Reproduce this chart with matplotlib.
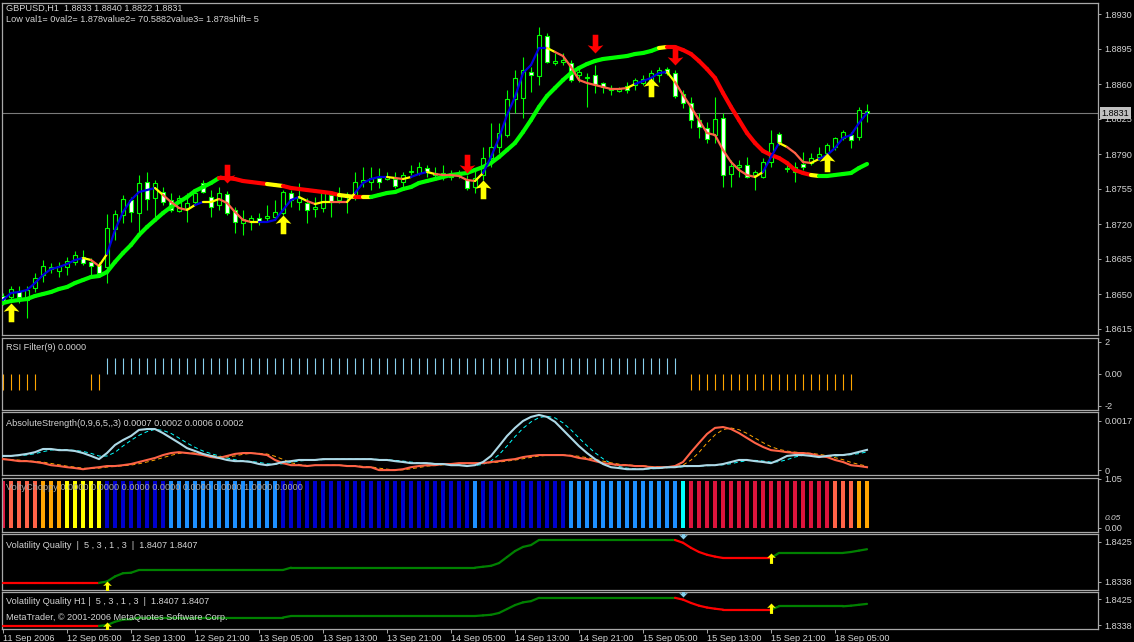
import numpy as np
import pandas as pd
import matplotlib
matplotlib.use("Agg")
import matplotlib.pyplot as plt
from matplotlib.path import Path
from matplotlib.collections import LineCollection

plt.rcParams['font.family'] = ['Liberation Sans', 'DejaVu Sans']

# ---------------- data (GBPUSD H1) ----------------
opens = [1.8648,1.8647,1.8653,1.8644,1.8656,1.8669,1.8675,1.8673,1.8677,1.8682,
1.8687,1.8682,1.8679,1.8677,1.8715,1.8729,1.8744,1.8731,1.8762,1.8746,
1.8752,1.8744,1.8733,1.8736,1.8742,1.8761,1.8747,1.8739,1.8750,1.8734,
1.8721,1.8722,1.8726,1.8726,1.8727,1.8731,1.8751,1.8742,1.8741,1.8735,
1.8736,1.8749,1.8744,1.8747,1.8747,1.8762,1.8762,1.8766,1.8765,1.8765,
1.8762,1.8772,1.8771,1.8776,1.8769,1.8768,1.8770,1.8769,1.8764,1.8757,
1.8769,1.8786,1.8797,1.8809,1.8845,1.8846,1.8872,1.8868,1.8908,1.8881,
1.8882,1.8881,1.8869,1.8866,1.8869,1.8861,1.8854,1.8853,1.8858,1.8859,
1.8861,1.8862,1.8869,1.8875,1.8871,1.8850,1.8841,1.8824,1.8816,1.8809,
1.8826,1.8770,1.8777,1.8779,1.8769,1.8767,1.8782,1.8810,1.8775,1.8772,
1.8780,1.8781,1.8787,1.8791,1.8797,1.8806,1.8809,1.8807,1.8833]
highs = [1.8651,1.8658,1.8658,1.8658,1.8671,1.8684,1.8681,1.8682,1.8687,1.8693,
1.8694,1.8686,1.8682,1.8730,1.8734,1.8749,1.8747,1.8769,1.8772,1.8764,
1.8757,1.8751,1.8749,1.8751,1.8754,1.8764,1.8754,1.8757,1.8753,1.8737,
1.8734,1.8729,1.8731,1.8739,1.8744,1.8754,1.8754,1.8761,1.8746,1.8747,
1.8754,1.8752,1.8757,1.8752,1.8772,1.8777,1.8777,1.8776,1.8772,1.8772,
1.8772,1.8779,1.8782,1.8779,1.8777,1.8779,1.8774,1.8774,1.8769,1.8774,
1.8797,1.8821,1.8821,1.8854,1.8874,1.8887,1.8877,1.8917,1.8911,1.8891,
1.8891,1.8884,1.8877,1.8871,1.8879,1.8862,1.8859,1.8857,1.8862,1.8866,
1.8869,1.8874,1.8877,1.8877,1.8874,1.8854,1.8847,1.8831,1.8822,1.8847,
1.8831,1.8784,1.8784,1.8787,1.8774,1.8786,1.8814,1.8812,1.8781,1.8782,
1.8792,1.8791,1.8797,1.8801,1.8807,1.8814,1.8812,1.8837,1.8840]
lows = [1.8639,1.8645,1.8641,1.8626,1.8652,1.8662,1.8671,1.8667,1.8669,1.8679,
1.8679,1.8667,1.8670,1.8661,1.8704,1.8721,1.8722,1.8711,1.8734,1.8724,
1.8739,1.8732,1.8732,1.8722,1.8739,1.8751,1.8727,1.8734,1.8729,1.8711,
1.8709,1.8714,1.8719,1.8722,1.8724,1.8729,1.8737,1.8734,1.8721,1.8727,
1.8732,1.8727,1.8741,1.8731,1.8744,1.8757,1.8754,1.8756,1.8764,1.8756,
1.8757,1.8769,1.8769,1.8767,1.8764,1.8764,1.8764,1.8766,1.8754,1.8751,
1.8764,1.8777,1.8791,1.8807,1.8831,1.8826,1.8852,1.8859,1.8881,1.8879,
1.8879,1.8862,1.8862,1.8837,1.8851,1.8851,1.8849,1.8852,1.8851,1.8854,
1.8859,1.8861,1.8862,1.8869,1.8846,1.8836,1.8816,1.8806,1.8801,1.8801,
1.8757,1.8757,1.8767,1.8766,1.8754,1.8766,1.8777,1.8799,1.8772,1.8762,
1.8774,1.8779,1.8784,1.8789,1.8794,1.8804,1.8796,1.8804,1.8822]
closes = [1.8643,1.8655,1.8647,1.8654,1.8666,1.8678,1.8677,1.8678,1.8683,1.8689,
1.8681,1.8678,1.8671,1.8716,1.8730,1.8745,1.8732,1.8761,1.8745,1.8761,
1.8742,1.8734,1.8746,1.8741,1.8751,1.8752,1.8737,1.8751,1.8731,1.8722,
1.8725,1.8726,1.8723,1.8728,1.8732,1.8752,1.8744,1.8746,1.8734,1.8737,
1.8751,1.8742,1.8749,1.8749,1.8762,1.8764,1.8766,1.8762,1.8767,1.8758,
1.8769,1.8773,1.8777,1.8772,1.8771,1.8771,1.8767,1.8771,1.8756,1.8766,
1.8786,1.8797,1.8811,1.8845,1.8866,1.8874,1.8869,1.8909,1.8882,1.8883,
1.8884,1.8864,1.8872,1.8867,1.8860,1.8857,1.8856,1.8855,1.8854,1.8864,
1.8865,1.8871,1.8874,1.8871,1.8848,1.8841,1.8824,1.8817,1.8805,1.8825,
1.8769,1.8778,1.8779,1.8767,1.8772,1.8782,1.8801,1.8802,1.8776,1.8777,
1.8777,1.8786,1.8790,1.8799,1.8806,1.8812,1.8804,1.8834,1.8831]

# fast smoothed line and its trend state per segment (b=up, y=flat, t=down)
fast_line = [1.8644,1.8651,1.8652,1.8654,1.8661,1.8669,1.8675,1.8677,1.8680,1.8684,
1.8686,1.8684,1.8678,1.8690,1.8714,1.8732,1.8744,1.8752,1.8754,1.8756,
1.8749,1.8742,1.8736,1.8734,1.8739,1.8742,1.8742,1.8745,1.8741,1.8732,
1.8724,1.8722,1.8722,1.8722,1.8724,1.8734,1.8744,1.8747,1.8743,1.8740,
1.8742,1.8742,1.8742,1.8742,1.8751,1.8761,1.8765,1.8767,1.8767,1.8766,
1.8765,1.8767,1.8770,1.8772,1.8770,1.8769,1.8769,1.8768,1.8764,1.8763,
1.8771,1.8787,1.8806,1.8829,1.8847,1.8871,1.8879,1.8896,1.8896,1.8892,
1.8888,1.8877,1.8864,1.8861,1.8859,1.8857,1.8855,1.8855,1.8856,1.8860,
1.8863,1.8866,1.8871,1.8872,1.8862,1.8849,1.8837,1.8824,1.8811,1.8809,
1.8794,1.8782,1.8774,1.8769,1.8767,1.8772,1.8787,1.8801,1.8797,1.8791,
1.8782,1.8781,1.8785,1.8789,1.8796,1.8806,1.8809,1.8821,1.8831]
fast_state = ("bbbbbbbbbb" "y" "t" "y" "bbbbbb" "y" "ttt" "y" "b" "yy" "tttt" "y"
              "bbbbb" "y" "t" "yy" "tt" "y" "bbbb" "y" "t" "y" "bb" "y" "ttttt" "y"
              "bbbbbbbb" "y" "ttttttttt" "y" "bbbb" "y" "tttttttttt" "y" "bb" "y"
              "ttt" "y" "bbbbbb")

# slow trend line and its state per segment (g=up, y=flat, r=down)
slow_line = [1.8641,1.8643,1.8644,1.8645,1.8648,1.8650,1.8652,1.8655,1.8657,1.8661,
1.8664,1.8667,1.8668,1.8672,1.8682,1.8691,1.8699,1.8709,1.8717,1.8724,
1.8731,1.8737,1.8742,1.8747,1.8753,1.8757,1.8761,1.8766,1.8766,1.8765,
1.8763,1.8762,1.8761,1.8760,1.8759,1.8758,1.8756,1.8755,1.8754,1.8753,
1.8752,1.8751,1.8749,1.8748,1.8747,1.8747,1.8747,1.8749,1.8751,1.8752,
1.8755,1.8757,1.8761,1.8763,1.8765,1.8767,1.8769,1.8770,1.8771,1.8774,
1.8777,1.8781,1.8787,1.8794,1.8801,1.8812,1.8824,1.8837,1.8848,1.8856,
1.8864,1.8871,1.8876,1.8880,1.8883,1.8885,1.8886,1.8887,1.8888,1.8890,
1.8891,1.8893,1.8896,1.8897,1.8897,1.8894,1.8890,1.8883,1.8875,1.8866,
1.8851,1.8837,1.8824,1.8811,1.8801,1.8793,1.8789,1.8786,1.8781,1.8774,
1.8771,1.8769,1.8768,1.8768,1.8769,1.8770,1.8771,1.8776,1.8780]
slow_state = ("g" * 27 + "r" * 6 + "y" * 2 + "r" * 7 + "yy" + "r" + "y" +
              "g" * 36 + "y" + "r" * 18 + "y" + "g" * 6)

# signal arrows on the price chart
buy_bars = [1, 35, 60, 81, 103]
buy_levels = [1.8641, 1.8729, 1.8764, 1.8866, 1.8791]
sell_bars = [28, 58, 74, 84]
sell_levels = [1.8761, 1.8771, 1.8891, 1.8879]

# RSI Filter(9): +1 up, -1 down, 0 none
rsi_filter = [-1,-1,-1,-1,-1,0,0,0,0,0,0,-1,-1,
 1,1,1,1,1,1,1,1,1,1,1,1,1,1,1,1,1,1,1,1,1,1,1,1,1,1,1,1,1,1,1,1,1,1,1,1,
 1,1,1,1,1,1,1,1,1,1,1,1,1,1,1,1,1,1,1,1,1,1,1,1,1,1,1,1,1,1,1,1,1,1,1,1,
 0,-1,-1,-1,-1,-1,-1,-1,-1,-1,-1,-1,-1,-1,-1,-1,-1,-1,-1,-1,-1,-1,0,0]

# AbsoluteStrength (values x 1e-4)
abs_bulls_e4 = [4.9,4.9,5.2,5.6,6.2,7.3,7.3,6.9,6.9,6.6,
5.9,4.9,3.8,5.9,8.7,10.4,11.8,13.9,14.2,14.2,
12.8,11.1,9.4,7.6,6.6,5.6,4.9,4.2,3.5,3.1,
3.1,2.8,2.1,1.7,2.1,2.8,3.1,3.5,3.5,3.5,
3.8,3.8,3.8,3.8,3.8,3.8,3.8,3.5,3.5,3.1,
2.8,2.4,2.4,2.4,2.1,2.1,1.7,1.7,1.4,1.7,
2.8,4.9,8.3,11.8,14.6,17.0,18.4,19.1,18.4,16.7,
13.9,11.1,8.3,5.9,3.8,2.1,1.0,0.7,0.3,0.3,
0.3,0.7,0.7,1.0,1.0,1.4,1.4,1.4,1.7,1.7,
2.1,2.8,3.5,3.5,3.1,2.8,2.4,3.5,4.9,5.2,
5.2,4.9,4.5,4.9,5.2,5.2,5.6,6.3,7.0]
abs_bears_e4 = [3.8,3.5,3.1,3.1,2.8,2.4,1.7,1.4,1.0,0.7,
0.3,0.7,1.0,1.4,1.4,1.7,2.1,2.8,3.5,4.2,
5.2,5.9,6.2,5.9,5.6,5.2,4.5,4.2,4.9,5.6,
5.9,5.9,5.6,5.2,3.5,2.4,1.7,1.7,1.4,1.7,
1.7,1.7,1.7,1.4,1.4,1.0,1.0,0.0,0.0,0.0,
0.3,1.0,1.4,1.7,1.7,2.1,2.1,2.4,2.4,2.4,
2.4,2.8,3.1,3.5,3.8,4.5,4.9,5.2,5.2,5.2,
5.2,4.9,4.2,3.8,3.1,2.4,2.1,1.7,1.7,1.4,
1.4,1.0,1.0,1.0,1.4,2.8,6.2,9.4,12.5,14.6,
14.9,14.2,12.8,11.1,9.4,8.0,6.9,6.6,6.2,5.9,
5.9,5.6,4.9,4.5,3.5,2.8,1.7,1.4,1.0]

# VoltyChoppy histogram colour codes per bar
volty_state = ("C" + "T" * 4 + "O" * 3 + "Y" * 5 + "M" * 8 + "D" * 14 + "M" * 24 + "D" +
               "M" * 11 + "D" * 14 + "A" + "C" * 18 + "T" * 3 + "O" * 2)

# Volatility Quality
vq = ([1.8336] * 13 + [1.8339, 1.8350, 1.8357, 1.8358] + [1.8364] * 19 + [1.8369] * 24 +
      [1.8371, 1.8373, 1.8379, 1.8392, 1.8405, 1.8414, 1.8418, 1.8429] + [1.8429] * 17 +
      [1.8423, 1.8412, 1.8403, 1.8397, 1.8393] + [1.8390] * 7 + [1.8401] * 9 +
      [1.8403, 1.8406, 1.8409])
vq_down_bars = list(range(0, 13)) + list(range(85, 97))
vq_up_sig_bars = [13, 96]
vq_up_sig_levels = [1.8340, 1.8401]
vq_dn_sig_bars = [85]
vq_dn_sig_levels = [1.8432]
vqh1_up_sig_levels = [1.8349, 1.8412]
vqh1_dn_sig_levels = [1.8432]

time_label_bars = [0, 8, 16, 24, 32, 40, 48, 56, 64, 72, 80, 88, 96, 104]
time_labels = ["11 Sep 2006", "12 Sep 05:00", "12 Sep 13:00", "12 Sep 21:00",
               "13 Sep 05:00", "13 Sep 13:00", "13 Sep 21:00", "14 Sep 05:00",
               "14 Sep 13:00", "14 Sep 21:00", "15 Sep 05:00", "15 Sep 13:00",
               "15 Sep 21:00", "18 Sep 05:00"]
price_ticks = [1.8615, 1.8650, 1.8685, 1.8720, 1.8755, 1.8790, 1.8825, 1.8860, 1.8895, 1.8930]

# ---------------- drawing ----------------
O = np.array(opens); Hh = np.array(highs); L = np.array(lows); C = np.array(closes)
bars = np.arange(len(C))

W, H = 1134, 642
fig = plt.figure(figsize=(W / 100, H / 100), dpi=100, facecolor='black')
FG = '#D4D4D4'
EDGE = '#A8A8A8'
FS = 6.6


def panel(top, bottom):
    l, r = 2, 1098
    ax = fig.add_axes([l / W, 1 - bottom / H, (r - l) / W, (bottom - top) / H])
    ax.set_facecolor('black')
    for s in ax.spines.values():
        s.set_color(EDGE)
        s.set_linewidth(0.9)
    ax.set_xlim(-0.125, 136.875)
    ax.yaxis.tick_right()
    ax.tick_params(axis='y', colors=EDGE, labelcolor=FG, labelsize=FS, length=2.5,
                   width=0.7, pad=2, direction='out')
    ax.tick_params(axis='x', bottom=False, labelbottom=False)
    return ax


def colored_line(ax, x, y, states, cmap, lw, z):
    pts = np.column_stack([x, y])
    segs = np.stack([pts[:-1], pts[1:]], axis=1)
    lc = LineCollection(segs, colors=[cmap[s] for s in states], linewidths=lw,
                        zorder=z, capstyle='round', joinstyle='round')
    ax.add_collection(lc)


def ftext(x, y, s, **kw):
    kw.setdefault('color', FG)
    kw.setdefault('fontsize', FS)
    fig.text(x / W, 1 - y / H, s, va='center', ha='left', **kw)


up_arrow = Path([(0, 0), (0.42, -0.44), (0.15, -0.38), (0.15, -1), (-0.15, -1),
                 (-0.15, -0.38), (-0.42, -0.44), (0, 0)],
                [Path.MOVETO] + [Path.LINETO] * 6 + [Path.CLOSEPOLY])
down_arrow = Path(up_arrow.vertices * np.array([1, -1]), up_arrow.codes)

# ---- main price panel ----
ax0 = panel(3, 335)
ax0.set_ylim(1.8609, 1.8941)
ax0.axhline(C[-1], color='#7A7A7A', lw=0.8, zorder=1)
ax0.vlines(bars, L, Hh, color='#00FF00', lw=0.8, zorder=2)
body_col = np.where(C > O, 'black', 'white')
ax0.bar(bars, np.abs(C - O), bottom=np.minimum(O, C), width=0.62, color=body_col,
        edgecolor='#00FF00', linewidth=0.8, zorder=3)
colored_line(ax0, bars, fast_line, fast_state,
             {'b': '#0000DD', 'y': '#FFFF00', 't': '#FF6347'}, 1.6, 5)
colored_line(ax0, bars, slow_line, slow_state,
             {'g': '#00FF00', 'y': '#FFFF00', 'r': '#FF0000'}, 3.0, 4)
ax0.plot(buy_bars, buy_levels, linestyle='none', marker=up_arrow, markersize=27,
         color='#FFFF00', markeredgewidth=0, zorder=6)
ax0.plot(sell_bars, sell_levels, linestyle='none', marker=down_arrow, markersize=27,
         color='#FF0000', markeredgewidth=0, zorder=6)
ax0.set_yticks(price_ticks)
ax0.set_yticklabels([f"{v:.4f}" for v in price_ticks])
ax0.annotate(f"{C[-1]:.4f}", xy=(1.0, C[-1]), xycoords=('axes fraction', 'data'),
             xytext=(2.5, 0), textcoords='offset points', ha='left', va='center',
             fontsize=FS, color='black', zorder=10, annotation_clip=False,
             bbox=dict(boxstyle='square,pad=0.15', facecolor='#C0C0C0', edgecolor='none'))
ftext(6, 8, "GBPUSD,H1  1.8833 1.8840 1.8822 1.8831")
ftext(6, 19, "Low val1= 0val2= 1.878value2= 70.5882value3= 1.878shift= 5")

# ---- RSI filter ----
ax1 = panel(338, 410)
ax1.set_ylim(-2.25, 2.25)
rf = np.array(rsi_filter)
pos = rf > 0
neg = rf < 0
ax1.vlines(bars[pos], 0, rf[pos], color='#87CEEB', lw=0.8)
ax1.vlines(bars[neg], 0, rf[neg], color='#FFA500', lw=0.8)
ax1.set_yticks([2, 0, -2])
ax1.set_yticklabels(['2', '0.00', '-2'])
ftext(6, 347, "RSI Filter(9) 0.0000")

# ---- AbsoluteStrength ----
ax2 = panel(412, 475)
bulls = np.array(abs_bulls_e4) * 1e-4
bears = np.array(abs_bears_e4) * 1e-4
sig_bulls = pd.Series(bulls).rolling(3, min_periods=1).mean().to_numpy()
sig_bears = pd.Series(bears).rolling(3, min_periods=1).mean().to_numpy()
ax2.set_ylim(-0.00017, 0.00201)
ax2.plot(bars, sig_bulls, color='#00FFFF', lw=0.7, dashes=(4, 3), zorder=2)
ax2.plot(bars, sig_bears, color='#FFA500', lw=0.7, dashes=(4, 3), zorder=2)
ax2.plot(bars, bears, color='#FF6347', lw=1.5, zorder=3)
ax2.plot(bars, bulls, color='#ADD8E6', lw=1.5, zorder=4)
ax2.set_yticks([0.0017, 0])
ax2.set_yticklabels(['0.0017', '0'])
ftext(6, 423, "AbsoluteStrength(0,9,6,5,,3) 0.0007 0.0002 0.0006 0.0002")

# ---- VoltyChoppy ----
ax3 = panel(478, 532)
ax3.set_ylim(-0.086, 1.07)
vcols = {'C': '#DC143C', 'T': '#FF6347', 'O': '#FFA500', 'Y': '#FFFF00',
         'M': '#0000CD', 'D': '#1E90FF', 'A': '#00FFFF'}
ax3.bar(bars, np.ones(len(bars)), width=0.6, color=[vcols[s] for s in volty_state], zorder=2)
ax3.set_yticks([1.05, 0])
ax3.set_yticklabels(['1.05', '0.00'])
ax3.annotate("0.05", xy=(1.0, 0.0), xycoords=('axes fraction', 'data'),
             xytext=(5, 7), textcoords='offset points', ha='left', va='center',
             fontsize=6.0, color=FG, style='italic', annotation_clip=False)
ftext(6, 487, "VoltyChoppy 0.0000 0.0000 0.0000 0.0000 0.0000 0.0000 1.0000 0.0000",
      color='#A8A8A8', zorder=5)

# ---- Volatility Quality ----
vq_arr = np.array(vq)
vq_seg_state = ['r' if (i + 1) in vq_down_bars else 'g' for i in range(len(vq_arr) - 1)]
vq_cols = {'r': '#FF0000', 'g': '#008000'}


def vq_panel(top, bottom, ylim, up_levels, dn_levels):
    ax = panel(top, bottom)
    ax.set_ylim(*ylim)
    colored_line(ax, bars, vq_arr, vq_seg_state, vq_cols, 1.6, 3)
    ax.plot(vq_up_sig_bars, up_levels, linestyle='none', marker=up_arrow, markersize=15,
            color='#FFFF00', markeredgewidth=0, zorder=5)
    ax.plot(vq_dn_sig_bars, dn_levels, linestyle='none', marker=down_arrow, markersize=15,
            color='#87CEEB', markeredgewidth=0, zorder=5)
    ax.set_yticks([1.8425, 1.8338])
    ax.set_yticklabels(['1.8425', '1.8338'])
    return ax


ax4 = vq_panel(534, 590, (1.83206, 1.8442), vq_up_sig_levels, vq_dn_sig_levels)
ftext(6, 545, "Volatility Quality  |  5 , 3 , 1 , 3  |  1.8407 1.8407")

ax5 = vq_panel(592, 629, (1.83261, 1.84482), vqh1_up_sig_levels, vqh1_dn_sig_levels)
ftext(6, 601, "Volatility Quality H1 |  5 , 3 , 1 , 3  |  1.8407 1.8407")
ftext(6, 617, "MetaTrader, \u00a9 2001-2006 MetaQuotes Software Corp.")

ax5.set_xticks(time_label_bars)
ax5.set_xticklabels(time_labels)
ax5.tick_params(axis='x', bottom=True, labelbottom=True, length=3, width=0.7,
                colors=EDGE, labelcolor=FG, labelsize=FS, pad=0.5, direction='out')
for lab in ax5.get_xticklabels():
    lab.set_ha('left')

fig.savefig("out.png", dpi=100, facecolor='black')
